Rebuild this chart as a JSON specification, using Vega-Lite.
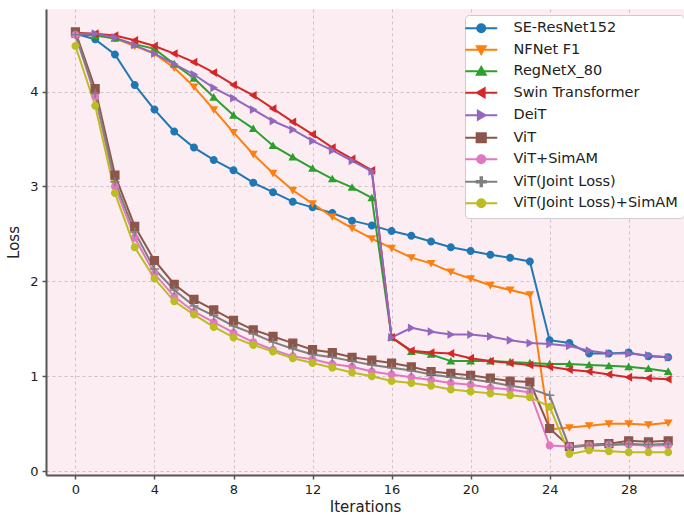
{
  "$schema": "https://vega.github.io/schema/vega-lite/v6.json",
  "width": 638,
  "height": 466,
  "autosize": {"type": "none"},
  "padding": {"left": 46, "top": 9, "right": 0, "bottom": 40},
  "background": "white",
  "config": {
    "view": {"fill": "#fcedf2", "stroke": null},
    "font": "DejaVu Sans",
    "axis": {
      "domainColor": "#555555", "domainWidth": 2,
      "tickColor": "#555555", "tickWidth": 1.5, "tickSize": 4,
      "labelFont": "DejaVu Sans", "labelFontSize": 13, "labelColor": "#222222",
      "titleFont": "DejaVu Sans", "titleFontSize": 15, "titleFontWeight": "normal", "titleColor": "#222222",
      "gridColor": "#cbbcc3", "gridDash": [3, 3], "gridWidth": 0.9
    },
    "legend": {
      "title": null, "orient": "none", "legendX": 419, "legendY": 6,
      "fillColor": "white", "strokeColor": "#cccccc", "cornerRadius": 4, "padding": 6,
      "labelFont": "DejaVu Sans", "labelFontSize": 14.5, "labelColor": "#222222", "labelLimit": 0,
      "symbolSize": 64, "symbolOffset": 3, "labelOffset": 25, "rowPadding": 4.5,
      "symbolStrokeWidth": 2, "symbolOpacity": 1
    }
  },
  "data": {"values": [
    {"model":"SE-ResNet152","iter":0,"loss":4.61},{"model":"SE-ResNet152","iter":1,"loss":4.55},{"model":"SE-ResNet152","iter":2,"loss":4.39},{"model":"SE-ResNet152","iter":3,"loss":4.07},{"model":"SE-ResNet152","iter":4,"loss":3.81},{"model":"SE-ResNet152","iter":5,"loss":3.58},{"model":"SE-ResNet152","iter":6,"loss":3.41},{"model":"SE-ResNet152","iter":7,"loss":3.28},{"model":"SE-ResNet152","iter":8,"loss":3.17},{"model":"SE-ResNet152","iter":9,"loss":3.04},{"model":"SE-ResNet152","iter":10,"loss":2.94},{"model":"SE-ResNet152","iter":11,"loss":2.84},{"model":"SE-ResNet152","iter":12,"loss":2.78},{"model":"SE-ResNet152","iter":13,"loss":2.72},{"model":"SE-ResNet152","iter":14,"loss":2.64},{"model":"SE-ResNet152","iter":15,"loss":2.59},{"model":"SE-ResNet152","iter":16,"loss":2.53},{"model":"SE-ResNet152","iter":17,"loss":2.48},{"model":"SE-ResNet152","iter":18,"loss":2.42},{"model":"SE-ResNet152","iter":19,"loss":2.36},{"model":"SE-ResNet152","iter":20,"loss":2.32},{"model":"SE-ResNet152","iter":21,"loss":2.28},{"model":"SE-ResNet152","iter":22,"loss":2.25},{"model":"SE-ResNet152","iter":23,"loss":2.21},{"model":"SE-ResNet152","iter":24,"loss":1.38},{"model":"SE-ResNet152","iter":25,"loss":1.35},{"model":"SE-ResNet152","iter":26,"loss":1.24},{"model":"SE-ResNet152","iter":27,"loss":1.24},{"model":"SE-ResNet152","iter":28,"loss":1.25},{"model":"SE-ResNet152","iter":29,"loss":1.21},{"model":"SE-ResNet152","iter":30,"loss":1.20},
    {"model":"NFNet F1","iter":0,"loss":4.60},{"model":"NFNet F1","iter":1,"loss":4.60},{"model":"NFNet F1","iter":2,"loss":4.56},{"model":"NFNet F1","iter":3,"loss":4.48},{"model":"NFNet F1","iter":4,"loss":4.40},{"model":"NFNet F1","iter":5,"loss":4.25},{"model":"NFNet F1","iter":6,"loss":4.05},{"model":"NFNet F1","iter":7,"loss":3.81},{"model":"NFNet F1","iter":8,"loss":3.57},{"model":"NFNet F1","iter":9,"loss":3.34},{"model":"NFNet F1","iter":10,"loss":3.14},{"model":"NFNet F1","iter":11,"loss":2.96},{"model":"NFNet F1","iter":12,"loss":2.82},{"model":"NFNet F1","iter":13,"loss":2.68},{"model":"NFNet F1","iter":14,"loss":2.56},{"model":"NFNet F1","iter":15,"loss":2.45},{"model":"NFNet F1","iter":16,"loss":2.35},{"model":"NFNet F1","iter":17,"loss":2.25},{"model":"NFNet F1","iter":18,"loss":2.19},{"model":"NFNet F1","iter":19,"loss":2.10},{"model":"NFNet F1","iter":20,"loss":2.03},{"model":"NFNet F1","iter":21,"loss":1.96},{"model":"NFNet F1","iter":22,"loss":1.91},{"model":"NFNet F1","iter":23,"loss":1.86},{"model":"NFNet F1","iter":24,"loss":0.44},{"model":"NFNet F1","iter":25,"loss":0.46},{"model":"NFNet F1","iter":26,"loss":0.48},{"model":"NFNet F1","iter":27,"loss":0.50},{"model":"NFNet F1","iter":28,"loss":0.50},{"model":"NFNet F1","iter":29,"loss":0.49},{"model":"NFNet F1","iter":30,"loss":0.51},
    {"model":"RegNetX_80","iter":0,"loss":4.60},{"model":"RegNetX_80","iter":1,"loss":4.59},{"model":"RegNetX_80","iter":2,"loss":4.56},{"model":"RegNetX_80","iter":3,"loss":4.50},{"model":"RegNetX_80","iter":4,"loss":4.45},{"model":"RegNetX_80","iter":5,"loss":4.29},{"model":"RegNetX_80","iter":6,"loss":4.14},{"model":"RegNetX_80","iter":7,"loss":3.94},{"model":"RegNetX_80","iter":8,"loss":3.75},{"model":"RegNetX_80","iter":9,"loss":3.61},{"model":"RegNetX_80","iter":10,"loss":3.43},{"model":"RegNetX_80","iter":11,"loss":3.31},{"model":"RegNetX_80","iter":12,"loss":3.19},{"model":"RegNetX_80","iter":13,"loss":3.08},{"model":"RegNetX_80","iter":14,"loss":2.99},{"model":"RegNetX_80","iter":15,"loss":2.88},{"model":"RegNetX_80","iter":16,"loss":1.41},{"model":"RegNetX_80","iter":17,"loss":1.26},{"model":"RegNetX_80","iter":18,"loss":1.23},{"model":"RegNetX_80","iter":19,"loss":1.16},{"model":"RegNetX_80","iter":20,"loss":1.16},{"model":"RegNetX_80","iter":21,"loss":1.16},{"model":"RegNetX_80","iter":22,"loss":1.15},{"model":"RegNetX_80","iter":23,"loss":1.14},{"model":"RegNetX_80","iter":24,"loss":1.13},{"model":"RegNetX_80","iter":25,"loss":1.13},{"model":"RegNetX_80","iter":26,"loss":1.12},{"model":"RegNetX_80","iter":27,"loss":1.11},{"model":"RegNetX_80","iter":28,"loss":1.10},{"model":"RegNetX_80","iter":29,"loss":1.08},{"model":"RegNetX_80","iter":30,"loss":1.05},
    {"model":"Swin Transformer","iter":0,"loss":4.62},{"model":"Swin Transformer","iter":1,"loss":4.61},{"model":"Swin Transformer","iter":2,"loss":4.59},{"model":"Swin Transformer","iter":3,"loss":4.54},{"model":"Swin Transformer","iter":4,"loss":4.48},{"model":"Swin Transformer","iter":5,"loss":4.40},{"model":"Swin Transformer","iter":6,"loss":4.31},{"model":"Swin Transformer","iter":7,"loss":4.20},{"model":"Swin Transformer","iter":8,"loss":4.07},{"model":"Swin Transformer","iter":9,"loss":3.96},{"model":"Swin Transformer","iter":10,"loss":3.82},{"model":"Swin Transformer","iter":11,"loss":3.68},{"model":"Swin Transformer","iter":12,"loss":3.55},{"model":"Swin Transformer","iter":13,"loss":3.41},{"model":"Swin Transformer","iter":14,"loss":3.29},{"model":"Swin Transformer","iter":15,"loss":3.17},{"model":"Swin Transformer","iter":16,"loss":1.41},{"model":"Swin Transformer","iter":17,"loss":1.27},{"model":"Swin Transformer","iter":18,"loss":1.25},{"model":"Swin Transformer","iter":19,"loss":1.24},{"model":"Swin Transformer","iter":20,"loss":1.19},{"model":"Swin Transformer","iter":21,"loss":1.16},{"model":"Swin Transformer","iter":22,"loss":1.14},{"model":"Swin Transformer","iter":23,"loss":1.12},{"model":"Swin Transformer","iter":24,"loss":1.10},{"model":"Swin Transformer","iter":25,"loss":1.07},{"model":"Swin Transformer","iter":26,"loss":1.05},{"model":"Swin Transformer","iter":27,"loss":1.02},{"model":"Swin Transformer","iter":28,"loss":0.99},{"model":"Swin Transformer","iter":29,"loss":0.98},{"model":"Swin Transformer","iter":30,"loss":0.97},
    {"model":"DeiT","iter":0,"loss":4.61},{"model":"DeiT","iter":1,"loss":4.61},{"model":"DeiT","iter":2,"loss":4.57},{"model":"DeiT","iter":3,"loss":4.49},{"model":"DeiT","iter":4,"loss":4.40},{"model":"DeiT","iter":5,"loss":4.29},{"model":"DeiT","iter":6,"loss":4.18},{"model":"DeiT","iter":7,"loss":4.04},{"model":"DeiT","iter":8,"loss":3.93},{"model":"DeiT","iter":9,"loss":3.81},{"model":"DeiT","iter":10,"loss":3.69},{"model":"DeiT","iter":11,"loss":3.60},{"model":"DeiT","iter":12,"loss":3.48},{"model":"DeiT","iter":13,"loss":3.38},{"model":"DeiT","iter":14,"loss":3.27},{"model":"DeiT","iter":15,"loss":3.16},{"model":"DeiT","iter":16,"loss":1.41},{"model":"DeiT","iter":17,"loss":1.51},{"model":"DeiT","iter":18,"loss":1.47},{"model":"DeiT","iter":19,"loss":1.44},{"model":"DeiT","iter":20,"loss":1.44},{"model":"DeiT","iter":21,"loss":1.42},{"model":"DeiT","iter":22,"loss":1.38},{"model":"DeiT","iter":23,"loss":1.35},{"model":"DeiT","iter":24,"loss":1.34},{"model":"DeiT","iter":25,"loss":1.32},{"model":"DeiT","iter":26,"loss":1.27},{"model":"DeiT","iter":27,"loss":1.24},{"model":"DeiT","iter":28,"loss":1.24},{"model":"DeiT","iter":29,"loss":1.22},{"model":"DeiT","iter":30,"loss":1.20},
    {"model":"ViT","iter":0,"loss":4.63},{"model":"ViT","iter":1,"loss":4.03},{"model":"ViT","iter":2,"loss":3.12},{"model":"ViT","iter":3,"loss":2.58},{"model":"ViT","iter":4,"loss":2.22},{"model":"ViT","iter":5,"loss":1.97},{"model":"ViT","iter":6,"loss":1.81},{"model":"ViT","iter":7,"loss":1.70},{"model":"ViT","iter":8,"loss":1.59},{"model":"ViT","iter":9,"loss":1.49},{"model":"ViT","iter":10,"loss":1.42},{"model":"ViT","iter":11,"loss":1.35},{"model":"ViT","iter":12,"loss":1.28},{"model":"ViT","iter":13,"loss":1.25},{"model":"ViT","iter":14,"loss":1.20},{"model":"ViT","iter":15,"loss":1.17},{"model":"ViT","iter":16,"loss":1.14},{"model":"ViT","iter":17,"loss":1.10},{"model":"ViT","iter":18,"loss":1.05},{"model":"ViT","iter":19,"loss":1.03},{"model":"ViT","iter":20,"loss":1.01},{"model":"ViT","iter":21,"loss":0.98},{"model":"ViT","iter":22,"loss":0.95},{"model":"ViT","iter":23,"loss":0.94},{"model":"ViT","iter":24,"loss":0.45},{"model":"ViT","iter":25,"loss":0.26},{"model":"ViT","iter":26,"loss":0.28},{"model":"ViT","iter":27,"loss":0.29},{"model":"ViT","iter":28,"loss":0.32},{"model":"ViT","iter":29,"loss":0.31},{"model":"ViT","iter":30,"loss":0.32},
    {"model":"ViT+SimAM","iter":0,"loss":4.60},{"model":"ViT+SimAM","iter":1,"loss":3.95},{"model":"ViT+SimAM","iter":2,"loss":3.00},{"model":"ViT+SimAM","iter":3,"loss":2.46},{"model":"ViT+SimAM","iter":4,"loss":2.08},{"model":"ViT+SimAM","iter":5,"loss":1.84},{"model":"ViT+SimAM","iter":6,"loss":1.68},{"model":"ViT+SimAM","iter":7,"loss":1.57},{"model":"ViT+SimAM","iter":8,"loss":1.46},{"model":"ViT+SimAM","iter":9,"loss":1.36},{"model":"ViT+SimAM","iter":10,"loss":1.28},{"model":"ViT+SimAM","iter":11,"loss":1.21},{"model":"ViT+SimAM","iter":12,"loss":1.18},{"model":"ViT+SimAM","iter":13,"loss":1.13},{"model":"ViT+SimAM","iter":14,"loss":1.10},{"model":"ViT+SimAM","iter":15,"loss":1.05},{"model":"ViT+SimAM","iter":16,"loss":1.02},{"model":"ViT+SimAM","iter":17,"loss":0.99},{"model":"ViT+SimAM","iter":18,"loss":0.96},{"model":"ViT+SimAM","iter":19,"loss":0.93},{"model":"ViT+SimAM","iter":20,"loss":0.91},{"model":"ViT+SimAM","iter":21,"loss":0.88},{"model":"ViT+SimAM","iter":22,"loss":0.86},{"model":"ViT+SimAM","iter":23,"loss":0.83},{"model":"ViT+SimAM","iter":24,"loss":0.27},{"model":"ViT+SimAM","iter":25,"loss":0.26},{"model":"ViT+SimAM","iter":26,"loss":0.27},{"model":"ViT+SimAM","iter":27,"loss":0.28},{"model":"ViT+SimAM","iter":28,"loss":0.28},{"model":"ViT+SimAM","iter":29,"loss":0.27},{"model":"ViT+SimAM","iter":30,"loss":0.27},
    {"model":"ViT(Joint Loss)","iter":0,"loss":4.60},{"model":"ViT(Joint Loss)","iter":1,"loss":3.98},{"model":"ViT(Joint Loss)","iter":2,"loss":3.05},{"model":"ViT(Joint Loss)","iter":3,"loss":2.52},{"model":"ViT(Joint Loss)","iter":4,"loss":2.13},{"model":"ViT(Joint Loss)","iter":5,"loss":1.91},{"model":"ViT(Joint Loss)","iter":6,"loss":1.74},{"model":"ViT(Joint Loss)","iter":7,"loss":1.64},{"model":"ViT(Joint Loss)","iter":8,"loss":1.53},{"model":"ViT(Joint Loss)","iter":9,"loss":1.45},{"model":"ViT(Joint Loss)","iter":10,"loss":1.36},{"model":"ViT(Joint Loss)","iter":11,"loss":1.29},{"model":"ViT(Joint Loss)","iter":12,"loss":1.23},{"model":"ViT(Joint Loss)","iter":13,"loss":1.20},{"model":"ViT(Joint Loss)","iter":14,"loss":1.16},{"model":"ViT(Joint Loss)","iter":15,"loss":1.12},{"model":"ViT(Joint Loss)","iter":16,"loss":1.09},{"model":"ViT(Joint Loss)","iter":17,"loss":1.06},{"model":"ViT(Joint Loss)","iter":18,"loss":1.02},{"model":"ViT(Joint Loss)","iter":19,"loss":0.99},{"model":"ViT(Joint Loss)","iter":20,"loss":0.97},{"model":"ViT(Joint Loss)","iter":21,"loss":0.94},{"model":"ViT(Joint Loss)","iter":22,"loss":0.90},{"model":"ViT(Joint Loss)","iter":23,"loss":0.87},{"model":"ViT(Joint Loss)","iter":24,"loss":0.80},{"model":"ViT(Joint Loss)","iter":25,"loss":0.25},{"model":"ViT(Joint Loss)","iter":26,"loss":0.27},{"model":"ViT(Joint Loss)","iter":27,"loss":0.28},{"model":"ViT(Joint Loss)","iter":28,"loss":0.29},{"model":"ViT(Joint Loss)","iter":29,"loss":0.28},{"model":"ViT(Joint Loss)","iter":30,"loss":0.29},
    {"model":"ViT(Joint Loss)+SimAM","iter":0,"loss":4.48},{"model":"ViT(Joint Loss)+SimAM","iter":1,"loss":3.85},{"model":"ViT(Joint Loss)+SimAM","iter":2,"loss":2.93},{"model":"ViT(Joint Loss)+SimAM","iter":3,"loss":2.36},{"model":"ViT(Joint Loss)+SimAM","iter":4,"loss":2.03},{"model":"ViT(Joint Loss)+SimAM","iter":5,"loss":1.79},{"model":"ViT(Joint Loss)+SimAM","iter":6,"loss":1.65},{"model":"ViT(Joint Loss)+SimAM","iter":7,"loss":1.52},{"model":"ViT(Joint Loss)+SimAM","iter":8,"loss":1.41},{"model":"ViT(Joint Loss)+SimAM","iter":9,"loss":1.33},{"model":"ViT(Joint Loss)+SimAM","iter":10,"loss":1.26},{"model":"ViT(Joint Loss)+SimAM","iter":11,"loss":1.19},{"model":"ViT(Joint Loss)+SimAM","iter":12,"loss":1.14},{"model":"ViT(Joint Loss)+SimAM","iter":13,"loss":1.09},{"model":"ViT(Joint Loss)+SimAM","iter":14,"loss":1.04},{"model":"ViT(Joint Loss)+SimAM","iter":15,"loss":1.00},{"model":"ViT(Joint Loss)+SimAM","iter":16,"loss":0.95},{"model":"ViT(Joint Loss)+SimAM","iter":17,"loss":0.93},{"model":"ViT(Joint Loss)+SimAM","iter":18,"loss":0.90},{"model":"ViT(Joint Loss)+SimAM","iter":19,"loss":0.86},{"model":"ViT(Joint Loss)+SimAM","iter":20,"loss":0.84},{"model":"ViT(Joint Loss)+SimAM","iter":21,"loss":0.82},{"model":"ViT(Joint Loss)+SimAM","iter":22,"loss":0.80},{"model":"ViT(Joint Loss)+SimAM","iter":23,"loss":0.78},{"model":"ViT(Joint Loss)+SimAM","iter":24,"loss":0.68},{"model":"ViT(Joint Loss)+SimAM","iter":25,"loss":0.18},{"model":"ViT(Joint Loss)+SimAM","iter":26,"loss":0.22},{"model":"ViT(Joint Loss)+SimAM","iter":27,"loss":0.21},{"model":"ViT(Joint Loss)+SimAM","iter":28,"loss":0.20},{"model":"ViT(Joint Loss)+SimAM","iter":29,"loss":0.20},{"model":"ViT(Joint Loss)+SimAM","iter":30,"loss":0.20}
  ]},
  "encoding": {
    "x": {"field": "iter", "type": "quantitative",
      "scale": {"domain": [-1.49, 30.8], "nice": false, "zero": false},
      "axis": {"values": [0, 4, 8, 12, 16, 20, 24, 28], "title": "Iterations", "grid": true, "labelPadding": 4, "titlePadding": 3}},
    "y": {"field": "loss", "type": "quantitative",
      "scale": {"domain": [-0.04, 4.87], "nice": false, "zero": false},
      "axis": {"values": [0, 1, 2, 3, 4], "format": "d", "title": "Loss", "grid": true, "labelPadding": 4, "titlePadding": 8}}
  },
  "layer": [
    {"mark": {"type": "line", "strokeWidth": 2, "clip": true},
     "encoding": {
       "stroke": {"field": "model", "type": "nominal",
         "scale": {
           "domain": ["SE-ResNet152", "NFNet F1", "RegNetX_80", "Swin Transformer", "DeiT", "ViT", "ViT+SimAM", "ViT(Joint Loss)", "ViT(Joint Loss)+SimAM"],
           "range": ["#1f77b4", "#ff7f0e", "#2ca02c", "#d62728", "#9467bd", "#8c564b", "#e377c2", "#7f7f7f", "#bcbd22"]
         }}
     }},
    {"mark": {"type": "point", "filled": true, "opacity": 1, "size": 64, "clip": true},
     "encoding": {
       "fill": {"field": "model", "type": "nominal",
         "scale": {
           "domain": ["SE-ResNet152", "NFNet F1", "RegNetX_80", "Swin Transformer", "DeiT", "ViT", "ViT+SimAM", "ViT(Joint Loss)", "ViT(Joint Loss)+SimAM"],
           "range": ["#1f77b4", "#ff7f0e", "#2ca02c", "#d62728", "#9467bd", "#8c564b", "#e377c2", "#7f7f7f", "#bcbd22"]
         }},
       "shape": {"field": "model", "type": "nominal",
         "scale": {
           "domain": ["SE-ResNet152", "NFNet F1", "RegNetX_80", "Swin Transformer", "DeiT", "ViT", "ViT+SimAM", "ViT(Joint Loss)", "ViT(Joint Loss)+SimAM"],
           "range": [
             "M-4,0H4M1,0A1,1 0 1,1 -1,0A1,1 0 1,1 1,0Z",
             "M-4,0H4M-1.1,-0.85L1.1,-0.85L0,1.05Z",
             "M-4,0H4M-1.1,0.85L1.1,0.85L0,-1.05Z",
             "M-4,0H4M0.85,-1.1L0.85,1.1L-1.05,0Z",
             "M-4,0H4M-0.85,-1.1L-0.85,1.1L1.05,0Z",
             "M-4,0H4M-1.15,-1.15H1.15V1.15H-1.15Z",
             "M-4,0H4M1,0A1,1 0 1,1 -1,0A1,1 0 1,1 1,0Z",
             "M-4,0H4M-0.18,-1.15H0.18V-0.18H1.15V0.18H0.18V1.15H-0.18V0.18H-1.15V-0.18H-0.18Z",
             "M-4,0H4M1,0A1,1 0 1,1 -1,0A1,1 0 1,1 1,0Z"
           ]
         }}
     }}
  ]
}
